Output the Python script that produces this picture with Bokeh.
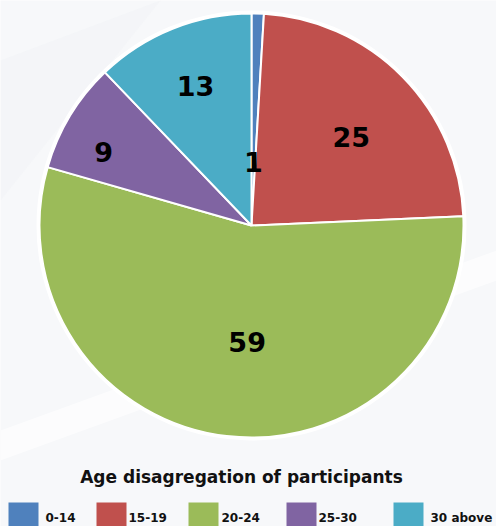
import math
from bokeh.plotting import figure
from bokeh.models import Range1d, ColumnDataSource
from bokeh.core.properties import value
from bokeh.embed import file_html
from bokeh.resources import INLINE

# ---- data ----
categories = ["0-14", "15-19", "20-24", "25-30", "30 above"]
counts = [1, 25, 59, 9, 13]
colors = ["#4f81bd", "#c0504d", "#9bbb59", "#8064a2", "#4bacc6"]
title_text = "Age disagregation of participants"

# ---- style / layout ----
W, H = 496, 526
CX, CY = 251, 225          # pie centre in pixels (from top-left)
R = 212
label_frac = [0.30, 0.63, 0.55, 0.78, 0.71]
label_rot = [0.0, -0.05, 0.08, 0.08, 0.0]  # small angular nudges (radians)
legend_box_x = [8, 96, 188, 286, 393]
legend_text_x = [45, 128, 221, 318, 430]
FONT = "DejaVu Sans"

def px(x):
    return x - CX

def py(y):
    return CY - y

total = sum(counts)
starts, ends, lx, ly = [], [], [], []
cum = 0
for i, c in enumerate(counts):
    a0 = math.pi / 2 - 2 * math.pi * cum / total
    a1 = math.pi / 2 - 2 * math.pi * (cum + c) / total
    starts.append(a0)
    ends.append(a1)
    mid = (a0 + a1) / 2 + label_rot[i]
    lx.append(R * label_frac[i] * math.cos(mid))
    ly.append(R * label_frac[i] * math.sin(mid))
    cum += c

src = ColumnDataSource(dict(cat=categories, val=counts, color=colors,
                            start=starts, end=ends, lx=lx, ly=ly,
                            txt=[str(v) for v in counts]))

p = figure(width=W, height=H, output_backend="svg", toolbar_location=None,
           x_range=Range1d(px(0), px(W)), y_range=Range1d(py(H), py(0)),
           min_border=0, outline_line_color=None)
p.axis.visible = False
p.grid.visible = False
p.background_fill_color = "#f7f8fa"
p.border_fill_color = "#f7f8fa"

# faint background streaks
p.patch([px(0), px(160), px(0)], [py(60), py(0), py(200)], fill_color="#eef0f3", fill_alpha=0.35, line_color=None)
p.patch([px(0), px(496), px(496), px(0)], [py(430), py(250), py(280), py(460)], fill_color="#ffffff", fill_alpha=0.6, line_color=None)

# white ring behind pie
p.circle(x=[0], y=[0], radius=R + 3, fill_color="white", line_color=None)

p.wedge(x=0, y=0, radius=R, start_angle="start", end_angle="end",
        direction="clock", fill_color="color", line_color="white",
        line_width=2, source=src)

p.text(x="lx", y="ly", text="txt", source=src, text_font=value(FONT),
       text_font_style="bold", text_font_size="27px", text_color="black",
       text_align="center", text_baseline="middle")

# title
p.text(x=[px(241)], y=[py(476)], text=[title_text], text_font=value(FONT),
       text_font_style="bold", text_font_size="17px", text_color="#111111",
       text_align="center", text_baseline="middle")

# legend
lsrc = ColumnDataSource(dict(
    bx=[px(x + 15) for x in legend_box_x], by=[py(514)] * len(categories),
    tx=[px(x) for x in legend_text_x], ty=[py(517)] * len(categories),
    color=colors, cat=categories))
p.rect(x="bx", y="by", width=30, height=24, fill_color="color",
       line_color=None, source=lsrc)
p.text(x="tx", y="ty", text="cat", source=lsrc, text_font=value(FONT),
       text_font_style="bold", text_font_size="12px", text_color="#111111",
       text_align="left", text_baseline="middle")

open("out.html", "w").write(file_html(p, INLINE))
